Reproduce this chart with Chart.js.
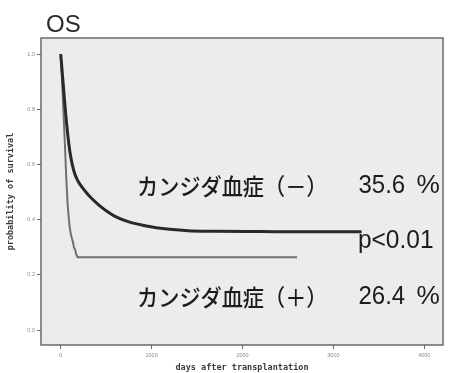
<!DOCTYPE html>
<html>
<head>
<meta charset="utf-8">
<script src="https://cdn.jsdelivr.net/npm/chart.js@4/dist/chart.umd.min.js"></script>
<style>
  html, body { margin: 0; padding: 0; background: #ffffff; }
  #wrap { width: 450px; height: 373px; }
</style>
</head>
<body>
<div id="wrap"><canvas id="c" width="450" height="373"></canvas></div>
<script>
// Overall survival after transplantation, by candidemia status
const daysNeg = [0, 25, 50, 75, 100, 125, 150, 180, 220, 270, 330, 420, 520, 620, 750, 900, 1050, 1200, 1400, 1700, 2200, 2800, 3310];
const survNeg = [1.0, 0.90, 0.80, 0.715, 0.648, 0.603, 0.571, 0.546, 0.524, 0.503, 0.480, 0.453, 0.428, 0.408, 0.392, 0.380, 0.371, 0.365, 0.360, 0.358, 0.357, 0.356, 0.356];

const daysPos = [0, 15, 30, 45, 60, 75, 90, 100, 110, 120, 135, 145, 160, 170, 185, 2600];
const survPos = [1.0, 0.90, 0.79, 0.68, 0.56, 0.46, 0.40, 0.37, 0.35, 0.335, 0.318, 0.30, 0.29, 0.275, 0.264, 0.264];

const xTicks = [0, 1000, 2000, 3000, 4000];
const yTicks = [0.0, 0.2, 0.4, 0.6, 0.8, 1.0];

const titleText = 'OS';
const groupLabels = ['カンジダ血症（－）', 'カンジダ血症（＋）'];
const groupPct = ['35.6', '26.4'];
const pValueText = 'p<0.01';

const toPoints = (xs, ys) => xs.map((x, i) => ({ x: x, y: ys[i] }));

// label anchors in data units (day, survival)
const labelAnchor = {
  group: [[840, 0.522], [840, 0.12]],
  pctRight: 3790,
  pctSign: 3915,
  pValue: [3270, 0.322]
};

const plotFrame = {
  id: 'plotFrame',
  beforeDraw(chart) {
    const { ctx, chartArea: a } = chart;
    ctx.save();
    ctx.fillStyle = '#ececec';
    ctx.fillRect(a.left, a.top, a.right - a.left, a.bottom - a.top);
    ctx.restore();
  },
  afterDraw(chart) {
    const { ctx, chartArea: a, scales } = chart;
    ctx.save();
    ctx.strokeStyle = '#6a6a6a';
    ctx.lineWidth = 1.5;
    ctx.strokeRect(a.left, a.top, a.right - a.left, a.bottom - a.top);

    const sx = scales.x, sy = scales.y;
    const put = (text, x, y, font, align, sxScale) => {
      ctx.save();
      ctx.font = font;
      ctx.textAlign = align;
      ctx.textBaseline = 'middle';
      ctx.translate(x, y);
      ctx.scale(sxScale, 1);
      ctx.fillText(text, 0, 0);
      ctx.restore();
    };
    ctx.fillStyle = '#1c1c1c';
    const jpFont = '500 23px "Noto Sans CJK JP"';
    const numFont = '25px "Liberation Sans", Arial, sans-serif';
    groupLabels.forEach((lbl, i) => {
      const [d, s] = labelAnchor.group[i];
      const y = sy.getPixelForValue(s);
      put(lbl, sx.getPixelForValue(d), y, jpFont, 'left', 0.92);
      put(groupPct[i], sx.getPixelForValue(labelAnchor.pctRight), y, numFont, 'right', 0.96);
      put('%', sx.getPixelForValue(labelAnchor.pctSign), y, numFont, 'left', 1.05);
    });
    put(pValueText, sx.getPixelForValue(labelAnchor.pValue[0]), sy.getPixelForValue(labelAnchor.pValue[1]), numFont, 'left', 0.98);

    // panel title
    ctx.fillStyle = '#2a2a2a';
    put(titleText, sx.left + 5, 25, '24px "Liberation Sans", Arial, sans-serif', 'left', 1);
    ctx.restore();
  }
};

new Chart(document.getElementById('c'), {
  type: 'line',
  data: {
    datasets: [
      {
        label: groupLabels[0],
        data: toPoints(daysNeg, survNeg),
        borderColor: '#272b27',
        borderWidth: 3,
        pointRadius: 0,
        cubicInterpolationMode: 'monotone',
        fill: false
      },
      {
        label: groupLabels[1],
        data: toPoints(daysPos, survPos),
        borderColor: '#6c726c',
        borderWidth: 2,
        pointRadius: 0,
        tension: 0,
        fill: false
      }
    ]
  },
  options: {
    responsive: false,
    animation: false,
    devicePixelRatio: 1,
    layout: { padding: { top: 38, right: 7, left: 0, bottom: 0 } },
    plugins: { legend: { display: false }, tooltip: { enabled: false }, title: { display: false } },
    scales: {
      x: {
        type: 'linear',
        min: -217,
        max: 4206,
        afterBuildTicks: s => { s.ticks = xTicks.map(v => ({ value: v })); },
        afterFit: s => { s.height = 28; },
        border: { display: false },
        grid: { drawOnChartArea: false, drawTicks: true, tickLength: 4, color: '#666666', lineWidth: 1 },
        ticks: {
          autoSkip: false, maxRotation: 0, padding: 3,
          color: '#8a8a8a',
          font: { size: 5.5, family: '"Liberation Sans", Arial, sans-serif' },
          callback: v => String(v)
        },
        title: {
          display: true,
          text: 'days after transplantation',
          color: '#3a3a3a',
          font: { size: 8.5, weight: 'bold', family: '"DejaVu Sans Mono", monospace' },
          padding: { top: 0, bottom: 0 }
        }
      },
      y: {
        type: 'linear',
        min: -0.054,
        max: 1.058,
        afterBuildTicks: s => { s.ticks = yTicks.map(v => ({ value: v })); },
        afterFit: s => { s.width = 41; },
        border: { display: false },
        grid: { drawOnChartArea: false, drawTicks: true, tickLength: 4, color: '#666666', lineWidth: 1 },
        ticks: {
          autoSkip: false, padding: 2,
          color: '#8a8a8a',
          font: { size: 5.5, family: '"Liberation Sans", Arial, sans-serif' },
          callback: v => Number(v).toFixed(1)
        },
        title: {
          display: true,
          text: 'probability of survival',
          color: '#3a3a3a',
          font: { size: 8.5, weight: 'bold', family: '"DejaVu Sans Mono", monospace' },
          padding: { top: 6, bottom: 0 }
        }
      }
    }
  },
  plugins: [plotFrame]
});
</script>
</body>
</html>
